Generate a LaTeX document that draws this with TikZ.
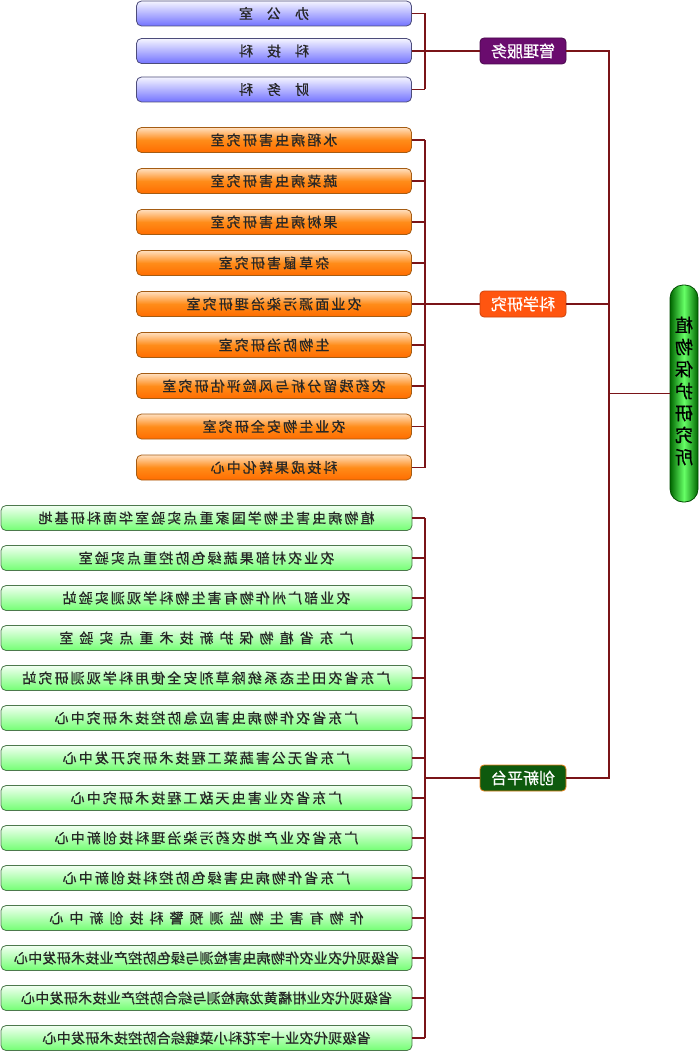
\documentclass[tikz,border=0pt]{standalone}
\usepackage{fontspec}
\usepackage{graphicx}
\setmainfont{Noto Sans CJK SC}
\newfontfamily\cjk[LetterSpace=15,FakeBold=0.6]{Noto Sans CJK SC}
\newfontfamily\cjkwide[LetterSpace=43,FakeBold=0.6]{Noto Sans CJK SC}
\newfontfamily\cjktight[LetterSpace=2,FakeBold=0.6]{Noto Sans CJK SC}
\newfontfamily\cjkplain[FakeBold=0.6]{Noto Sans CJK SC}
\definecolor{connred}{HTML}{7A1418}
\definecolor{labpurple}{HTML}{6A0C6E}
\definecolor{laborange}{HTML}{FF5510}
\definecolor{labgreen}{HTML}{0E5A0E}
\newcommand{\mir}[1]{\reflectbox{#1}}
\begin{document}
\begin{tikzpicture}[x=1pt,y=-1pt,
  basebox/.style={rounded corners=5pt, inner sep=0pt, minimum height=25pt, line width=0.8pt,
    font=\cjk\fontsize{14}{16}\selectfont, text=black!85},
  bluebox/.style={basebox, minimum width=275pt, draw=black!55!blue!40!gray,
    top color=blue!4, bottom color=blue!55!white},
  orangebox/.style={basebox, minimum width=275pt, draw=black!40!orange!70!brown,
    top color=orange!25!white, bottom color=orange!85!red, middle color=orange!90},
  greenbox/.style={basebox, minimum width=411pt, draw=green!25!black!70,
    top color=green!5!white, bottom color=green!55!white},
  labbox/.style={rounded corners=4pt, inner sep=0pt, minimum width=86pt, minimum height=26pt,
    line width=0.8pt, font=\cjkplain\fontsize{16}{18}\selectfont, text=white},
  conn/.style={draw=connred, line width=1.3pt}
]
\useasboundingbox (0,0) rectangle (700,1051);
\coordinate (bus) at (425,0);
\coordinate (trunk) at (609,0);

% blue boxes
\node[bluebox] (b1) at (274,13.5) {\mir{办\hspace{14pt}公\hspace{14pt}室}};
\node[bluebox] (b2) at (274,51) {\mir{科\hspace{14pt}技\hspace{14pt}科}};
\node[bluebox] (b3) at (274,89.5) {\mir{财\hspace{14pt}务\hspace{14pt}科}};

% orange boxes
\node[orangebox] (o1) at (274,140) {\mir{水稻病虫害研究室}};
\node[orangebox] (o2) at (274,181) {\mir{蔬菜病虫害研究室}};
\node[orangebox] (o3) at (274,222) {\mir{果树病虫害研究室}};
\node[orangebox] (o4) at (274,263) {\mir{杂草鼠害研究室}};
\node[orangebox] (o5) at (274,304) {\mir{农业面源污染治理研究室}};
\node[orangebox] (o6) at (274,345) {\mir{生物防治研究室}};
\node[orangebox] (o7) at (274,386) {\mir{农药残留分析与风险评估研究室}};
\node[orangebox] (o8) at (274,426.5) {\mir{农业生物安全研究室}};
\node[orangebox] (o9) at (274,467.5) {\mir{科技成果转化中心}};

% green boxes
\node[greenbox] (g1) at (206.5,518) {\mir{植物病虫害生物学国家重点实验室华南科研基地}};
\node[greenbox] (g2) at (206.5,558) {\mir{农业农村部果蔬绿色防控重点实验室}};
\node[greenbox] (g3) at (206.5,598) {\mir{农业部广州作物有害生物科学观测实验站}};
\node[greenbox] (g4) at (206.5,638) {\mir{\cjkwide 广东省植物保护新技术重点实验室}};
\node[greenbox] (g5) at (206.5,678) {\mir{广东省农田生态系统除草剂安全使用科学观测研究站}};
\node[greenbox] (g6) at (206.5,718) {\mir{广东省农作物病虫害应急防控技术研究中心}};
\node[greenbox] (g7) at (206.5,758) {\mir{广东省无公害蔬菜工程技术研究开发中心}};
\node[greenbox] (g8) at (206.5,798) {\mir{广东省农业害虫天敌工程技术研究中心}};
\node[greenbox] (g9) at (206.5,838) {\mir{广东省农业产地农药污染治理科技创新中心}};
\node[greenbox] (g10) at (206.5,878) {\mir{广东省作物病虫害绿色防控科技创新中心}};
\node[greenbox] (g11) at (206.5,918) {\mir{\cjkwide 作物有害生物监测预警科技创新中心}};
\node[greenbox] (g12) at (206.5,958) {\mir{\cjktight 省级现代农业农作物病虫害检测与绿色防控产业技术研发中心}};
\node[greenbox] (g13) at (206.5,998) {\mir{\cjktight 省级现代农业柑橘黄龙病检测与综合防控产业技术研发中心}};
\node[greenbox] (g14) at (206.5,1038) {\mir{\cjktight 省级现代农业十字花科小菜蛾综合防控技术研发中心}};

% category labels
\node[labbox, fill=labpurple, draw=labpurple!70!black] (l1) at (523,51) {\mir{管理服务}};
\node[labbox, fill=laborange, draw=laborange!80!black] (l2) at (523,304) {\mir{科学研究}};
\node[labbox, fill=labgreen, draw=orange!60!brown] (l3) at (523,778) {\mir{创新平台}};

% main node
\node[rounded corners=13pt, inner sep=0pt, minimum width=28pt, minimum height=217pt,
  draw=green!30!black, line width=0.8pt,
  left color=green!40!black, right color=green!40!black, middle color=green!60!white,
  font=\cjkplain\fontsize{18}{22}\selectfont, text=black] (main) at (684,393.5)
  {\mir{\begin{tabular}{@{}c@{}}植\\物\\保\\护\\研\\究\\所\end{tabular}}};

% connectors: management
\foreach \n in {b1,b2,b3}{\draw[conn] (\n.east) -- (\n.east -| bus);}
\draw[conn] (b1.east -| bus) -- (b3.east -| bus);
\draw[conn] (l1.west -| bus) -- (l1.west);
% research
\foreach \n in {o1,o2,o3,o4,o5,o6,o7,o8,o9}{\draw[conn] (\n.east) -- (\n.east -| bus);}
\draw[conn] (o1.east -| bus) -- (o9.east -| bus);
\draw[conn] (l2.west -| bus) -- (l2.west);
% platforms
\foreach \n in {g1,g2,g3,g4,g5,g6,g7,g8,g9,g10,g11,g12,g13,g14}{\draw[conn] (\n.east) -- (\n.east -| bus);}
\draw[conn] (g1.east -| bus) -- (g14.east -| bus);
\draw[conn] (l3.west -| bus) -- (l3.west);
% trunk
\draw[conn] (l1.east) -- (l1.east -| trunk) -- (l3.east -| trunk) -- (l3.east);
\draw[conn] (l2.east) -- (l2.east -| trunk);
\draw[conn] (main.west -| trunk) -- (main.west);
\end{tikzpicture}
\end{document}
